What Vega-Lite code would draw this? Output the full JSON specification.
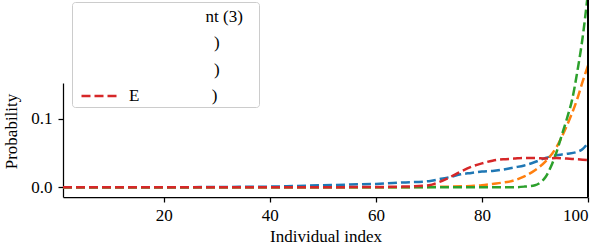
{
  "$schema": "https://vega.github.io/schema/vega-lite/v6.json",
  "width": 525,
  "height": 114,
  "autosize": {"type": "none"},
  "padding": {"left": 63, "top": 83, "right": 16, "bottom": 53},
  "background": "white",
  "config": {
    "view": {"stroke": null},
    "font": "Liberation Serif",
    "axis": {
      "domainColor": "black", "domainWidth": 1.25, "tickColor": "black", "tickWidth": 1.25, "tickSize": 5,
      "labelFont": "Liberation Serif", "labelFontSize": 17, "labelColor": "black",
      "titleFont": "Liberation Serif", "titleFontSize": 17, "titleFontWeight": "normal", "titleColor": "black",
      "grid": false
    },
    "legend": {"labelFont": "Liberation Serif", "labelFontSize": 17, "labelColor": "black"}
  },
  "data": {"values": [
    {"s":"A","x":1,"p":0},{"s":"A","x":10,"p":0},{"s":"A","x":20,"p":0},{"s":"A","x":30,"p":0.0005},{"s":"A","x":40,"p":0.001},{"s":"A","x":45,"p":0.002},{"s":"A","x":50,"p":0.003},{"s":"A","x":55,"p":0.004},{"s":"A","x":60,"p":0.005},{"s":"A","x":65,"p":0.007},{"s":"A","x":70,"p":0.009},{"s":"A","x":72,"p":0.012},{"s":"A","x":74,"p":0.015},{"s":"A","x":76,"p":0.019},{"s":"A","x":78,"p":0.021},{"s":"A","x":80,"p":0.023},{"s":"A","x":82,"p":0.024},{"s":"A","x":84,"p":0.026},{"s":"A","x":86,"p":0.029},{"s":"A","x":88,"p":0.032},{"s":"A","x":90,"p":0.037},{"s":"A","x":92,"p":0.043},{"s":"A","x":94,"p":0.047},{"s":"A","x":96,"p":0.049},{"s":"A","x":98,"p":0.052},{"s":"A","x":99,"p":0.056},{"s":"A","x":100,"p":0.065},
    {"s":"B","x":1,"p":0},{"s":"B","x":20,"p":0},{"s":"B","x":40,"p":0},{"s":"B","x":60,"p":0},{"s":"B","x":70,"p":0.0005},{"s":"B","x":74,"p":0.001},{"s":"B","x":78,"p":0.002},{"s":"B","x":80,"p":0.003},{"s":"B","x":82,"p":0.005},{"s":"B","x":84,"p":0.007},{"s":"B","x":86,"p":0.010},{"s":"B","x":88,"p":0.016},{"s":"B","x":90,"p":0.025},{"s":"B","x":92,"p":0.038},{"s":"B","x":94,"p":0.058},{"s":"B","x":96,"p":0.090},{"s":"B","x":98,"p":0.130},{"s":"B","x":99,"p":0.155},{"s":"B","x":100,"p":0.178},
    {"s":"C","x":1,"p":0},{"s":"C","x":20,"p":0},{"s":"C","x":40,"p":0},{"s":"C","x":60,"p":0},{"s":"C","x":80,"p":0},{"s":"C","x":86,"p":0},{"s":"C","x":88,"p":0.001},{"s":"C","x":90,"p":0.003},{"s":"C","x":91,"p":0.007},{"s":"C","x":92,"p":0.015},{"s":"C","x":93,"p":0.030},{"s":"C","x":94,"p":0.050},{"s":"C","x":95,"p":0.075},{"s":"C","x":96,"p":0.100},{"s":"C","x":97,"p":0.128},{"s":"C","x":98,"p":0.170},{"s":"C","x":99,"p":0.220},{"s":"C","x":100,"p":0.285},
    {"s":"D","x":1,"p":0},{"s":"D","x":20,"p":0},{"s":"D","x":40,"p":0},{"s":"D","x":60,"p":0.0005},{"s":"D","x":65,"p":0.001},{"s":"D","x":70,"p":0.003},{"s":"D","x":72,"p":0.008},{"s":"D","x":74,"p":0.015},{"s":"D","x":76,"p":0.023},{"s":"D","x":78,"p":0.030},{"s":"D","x":80,"p":0.035},{"s":"D","x":82,"p":0.039},{"s":"D","x":84,"p":0.041},{"s":"D","x":86,"p":0.042},{"s":"D","x":88,"p":0.043},{"s":"D","x":90,"p":0.043},{"s":"D","x":92,"p":0.042},{"s":"D","x":94,"p":0.043},{"s":"D","x":96,"p":0.042},{"s":"D","x":98,"p":0.041},{"s":"D","x":100,"p":0.040}
  ]},
  "layer": [
    {
      "mark": {"type": "line", "strokeDash": [9, 4], "strokeWidth": 2.5, "interpolate": "monotone", "clip": false},
      "encoding": {
        "x": {"field": "x", "type": "quantitative", "scale": {"domain": [1, 100], "nice": false, "zero": false},
              "axis": {"values": [20, 40, 60, 80, 100], "title": "Individual index", "labelPadding": 5, "titlePadding": 5}},
        "y": {"field": "p", "type": "quantitative", "scale": {"domain": [-0.0142, 0.1527], "nice": false, "zero": false},
              "axis": {"values": [0, 0.1], "format": ".1f", "title": "Probability", "labelPadding": 6, "titlePadding": 10, "titleY": 48}},
        "color": {"field": "s", "type": "nominal",
          "scale": {"domain": ["A", "B", "C", "D"], "range": ["#1f77b4", "#ff7f0e", "#2ca02c", "#d62728"]},
          "legend": {
            "title": null, "orient": "none", "legendX": 9, "legendY": -81,
            "symbolType": "M-1.9,0H1.9", "symbolSize": 400, "symbolStrokeWidth": 2.5, "symbolDash": [9, 4],
            "symbolOffset": 14, "labelOffset": 17, "rowPadding": 6.5, "padding": 3, "labelLimit": 0,
            "labelFont": "Liberation Serif", "labelFontSize": 17, "labelColor": "black",
            "fillColor": "white", "strokeColor": "#cccccc", "cornerRadius": 3,
            "labelExpr": "datum.label == 'A' ? '\u200b\u00a0\u00a0\u00a0\u00a0\u00a0\u00a0\u00a0\u00a0\u00a0\u00a0\u00a0\u00a0\u00a0\u00a0\u00a0\u00a0\u00a0\u00a0nt (3)\u00a0\u00a0\u00a0\u200b' : datum.label == 'D' ? 'E\u00a0\u00a0\u00a0\u00a0\u00a0\u00a0\u00a0\u00a0\u00a0\u00a0\u00a0\u00a0\u00a0\u00a0\u00a0\u00a0\u00a0)' : '\u200b\u00a0\u00a0\u00a0\u00a0\u00a0\u00a0\u00a0\u00a0\u00a0\u00a0\u00a0\u00a0\u00a0\u00a0\u00a0\u00a0\u00a0\u00a0\u00a0\u00a0)'",
            "encode": {
              "symbols": {"update": {"opacity": {"signal": "datum.value == 'D' ? 1 : 0"}}},
              "labels": {"update": {"font": {"value": "Liberation Serif"}, "fontSize": {"value": 17}}}
            }
          }}
      }
    },
    {
      "mark": {"type": "rule", "color": "black", "strokeWidth": 1.25, "clip": false},
      "encoding": {"x": {"datum": 100}, "y": {"datum": -0.0142}, "y2": {"datum": 0.35}}
    }
  ]
}
